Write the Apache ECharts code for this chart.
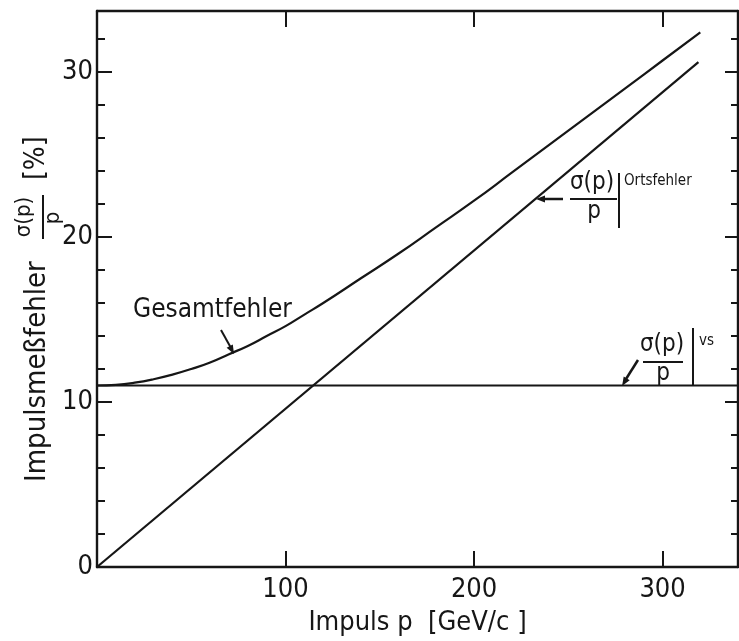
<!DOCTYPE html>
<html><head><meta charset="utf-8">
<script src="https://cdn.jsdelivr.net/npm/echarts@6/dist/echarts.min.js"></script>
<style>html,body{margin:0;padding:0;background:#fff}#c{width:739px;height:641px}</style>
</head><body><div id="c"></div>
<script>
// Momentum p [GeV/c] and total error (Gesamtfehler) [%]
const momentum   = [0, 10, 20, 30, 40, 50, 60, 70, 80, 90, 100, 110, 120, 140, 160, 180, 200, 220, 240, 260, 280, 300, 320];
const totalError = [11.0, 11.04, 11.17, 11.38, 11.66, 12.0, 12.4, 12.9, 13.4, 14.0, 14.6, 15.3, 16.0, 17.5, 19.0, 20.6, 22.2, 23.9, 25.6, 27.3, 29.0, 30.7, 32.4];
// Position error (Ortsfehler)
const posErrP = [0, 319];
const posErr  = [0, 30.6];
// Multiple scattering error (vs)
const vsErrP = [0, 340];
const vsErr  = [11.0, 11.0];
// Axis settings
const xMax = 340, yMax = 33.7;
const xTickLabels = ['100', '200', '300'];
const yTickLabels = ['0', '10', '20', '30'];

const FONT = '"DejaVu Sans Condensed","Liberation Sans Narrow",sans-serif';
const INK = '#161616';
const chart = echarts.init(document.getElementById('c'), null, {renderer: 'canvas'});

const lineS = {color: INK, width: 2.4};
function yAx(pos, interval, len, showLine, showLabel) {
  return {
    type: 'value', position: pos, min: 0, max: yMax, interval: interval,
    axisLine: {show: showLine, onZero: false, lineStyle: lineS},
    axisTick: {show: true, inside: true, length: len, lineStyle: {color: INK, width: 2}},
    axisLabel: {show: showLabel, margin: 4, fontFamily: FONT, fontSize: 27, color: INK,
      formatter: v => yTickLabels.includes(String(v)) ? String(v) : ''},
    splitLine: {show: false}
  };
}
function xAx(pos, showLabel) {
  return {
    type: 'value', position: pos, min: 0, max: xMax, interval: 100,
    axisLine: {show: true, onZero: false, lineStyle: lineS},
    axisTick: {show: true, inside: true, length: 16, lineStyle: {color: INK, width: 2}},
    axisLabel: {show: showLabel, margin: 9, fontFamily: FONT, fontSize: 27, color: INK,
      showMinLabel: false, showMaxLabel: false,
      formatter: v => xTickLabels.includes(String(v)) ? String(v) : ''},
    splitLine: {show: false},
    name: showLabel ? 'Impuls p  [GeV/c ]' : '', nameLocation: 'middle', nameGap: 42,
    nameTextStyle: {fontFamily: FONT, fontSize: 27, color: INK}
  };
}

const seriesStyle = {type: 'line', symbol: 'none', xAxisIndex: 0, yAxisIndex: 0,
  lineStyle: {color: INK, width: 2.2}, silent: true, animation: false};

function txt(x, y, s, fs, align) {
  return {type: 'text', x: x, y: y, style: {text: s, fontFamily: FONT, fontSize: fs, fill: INK,
    align: align || 'center', verticalAlign: 'middle'}};
}
function seg(x1, y1, x2, y2, w) {
  return {type: 'line', shape: {x1, y1, x2, y2}, style: {stroke: INK, lineWidth: w || 2}};
}
function arrowHead(tx, ty, fx, fy) {
  const a = Math.atan2(ty - fy, tx - fx), L = 9, W = 3.5;
  const bx = tx - L * Math.cos(a), by = ty - L * Math.sin(a);
  const px = -Math.sin(a) * W, py = Math.cos(a) * W;
  return {type: 'polygon', shape: {points: [[tx, ty], [bx + px, by + py], [bx - px, by - py]]}, style: {fill: INK}};
}

const option = {
  backgroundColor: '#fff',
  animation: false,
  grid: {left: 97, right: 1, top: 11, bottom: 73, containLabel: false},
  xAxis: [xAx('bottom', true), xAx('top', false)],
  yAxis: [yAx('left', 10, 15, true, true), yAx('left', 2, 8, false, false),
          yAx('right', 10, 13, true, false), yAx('right', 2, 7, false, false)],
  series: [
    Object.assign({}, seriesStyle, {name: 'Gesamtfehler', smooth: true, data: momentum.map((p, i) => [p, totalError[i]])}),
    Object.assign({}, seriesStyle, {name: 'Ortsfehler', data: posErrP.map((p, i) => [p, posErr[i]])}),
    Object.assign({}, seriesStyle, {name: 'vs', data: vsErrP.map((p, i) => [p, vsErr[i]])})
  ],
  graphic: [
    // Gesamtfehler label
    txt(133, 310, 'Gesamtfehler', 26, 'left'),
    seg(221, 330, 231, 348), arrowHead(234, 354, 221, 330),
    // Ortsfehler label
    txt(592, 183, 'σ(p)', 24), seg(570, 199, 617, 199), txt(594, 212, 'p', 24),
    seg(619, 173, 619, 228), txt(624, 181, 'Ortsfehler', 15, 'left'),
    seg(543, 199, 563, 199, 2.5), arrowHead(536, 199, 563, 199),
    // vs label
    txt(662, 345, 'σ(p)', 24), seg(643, 362, 683, 362), txt(663, 374, 'p', 24),
    seg(693, 328, 693, 385), txt(699, 341, 'vs', 15, 'left'),
    seg(638, 360, 626, 379, 2.5), arrowHead(622, 386, 638, 360),
    // Y axis title (rotated)
    {type: 'group', x: 37, y: 482, rotation: Math.PI / 2, children: [
      txt(0, 0, 'Impulsmeßfehler', 29, 'left'),
      txt(265, -13, 'σ(p)', 22), seg(243, 6, 287, 6), txt(264, 16, 'p', 22),
      txt(302, 0, '[%]', 28, 'left')
    ]}
  ]
};
chart.setOption(option);
</script></body></html>
